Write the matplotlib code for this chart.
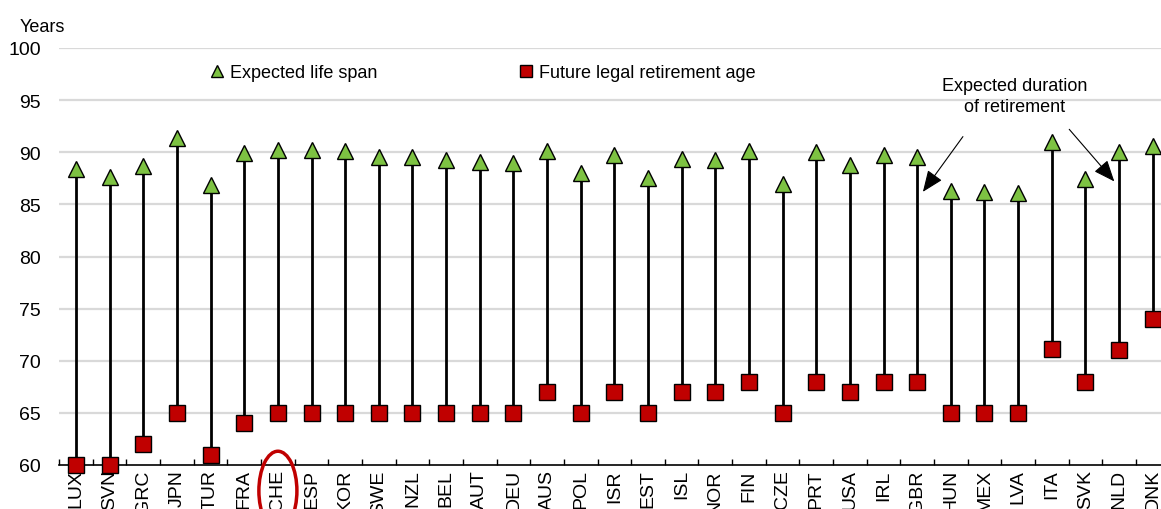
import matplotlib
matplotlib.use("Agg")
import matplotlib.pyplot as plt
from matplotlib import font_manager
from matplotlib.patches import Ellipse
from matplotlib.lines import Line2D
import matplotlib.transforms as mtransforms
import numpy as np

countries = ["LUX", "SVN", "GRC", "JPN", "TUR", "FRA", "CHE", "ESP", "KOR", "SWE",
             "NZL", "BEL", "AUT", "DEU", "AUS", "POL", "ISR", "EST", "ISL", "NOR",
             "FIN", "CZE", "PRT", "USA", "IRL", "GBR", "HUN", "MEX", "LVA", "ITA",
             "SVK", "NLD", "DNK"]
life_span = [88.4, 87.6, 88.7, 91.35, 86.9, 89.9, 90.2, 90.2, 90.15, 89.5,
             89.5, 89.3, 89.1, 89.0, 90.15, 88.0, 89.7, 87.5, 89.4, 89.3,
             90.1, 87.0, 90.0, 88.8, 89.7, 89.5, 86.3, 86.2, 86.1, 91.0,
             87.4, 90.0, 90.6]
retirement_age = [60, 60, 62, 65, 61, 64, 65, 65, 65, 65,
                  65, 65, 65, 65, 67, 65, 67, 65, 67, 67,
                  68, 65, 68, 67, 68, 68, 65, 65, 65, 71.1,
                  68, 71, 74]
y_ticks = [60, 65, 70, 75, 80, 85, 90, 95, 100]
highlight = "CHE"

available = {f.name for f in font_manager.fontManager.ttflist}
fam = "Liberation Sans Narrow" if "Liberation Sans Narrow" in available else "Liberation Sans"
plt.rcParams["font.family"] = [fam, "DejaVu Sans"]

GREEN = "#7DC242"
RED = "#C00000"
GRID = "#D9D9D9"
FS = 13

fig = plt.figure(figsize=(11.61, 5.10), dpi=100)
W, H = 1161, 510
ax = fig.add_axes([59.2 / W, 1 - 466 / H, (1169.5 - 59.2) / W, (466 - 49) / H])

x = np.arange(len(countries))
ax.set_xlim(-0.5, len(countries) - 0.5)
ax.set_ylim(60, 100)

for yv in y_ticks[1:]:
    ax.axhline(yv, color=GRID, lw=1.6, zorder=0)

ax.vlines(x, retirement_age, life_span, color="black", lw=2, zorder=2)
ax.plot(x, life_span, linestyle="none", marker="^", markersize=12,
        markerfacecolor=GREEN, markeredgecolor="black", markeredgewidth=1, zorder=3, clip_on=False)
ax.plot(x, retirement_age, linestyle="none", marker="s", markersize=11.5,
        markerfacecolor=RED, markeredgecolor="black", markeredgewidth=1, zorder=4, clip_on=False)

for s in ["top", "right", "left"]:
    ax.spines[s].set_visible(False)
ax.spines["bottom"].set_color("black")
ax.spines["bottom"].set_linewidth(1.2)

ax.set_yticks(y_ticks)
ax.set_yticklabels([str(v) for v in y_ticks], fontsize=FS + 1)
ax.tick_params(axis="y", length=0, pad=13)

ax.set_xticks(x)
ax.set_xticklabels(countries, rotation=90, fontsize=FS + 1)
ax.tick_params(axis="x", which="major", length=0, pad=3)
ax.set_xticks(np.arange(-0.5, len(countries), 1), minor=True)
ax.tick_params(axis="x", which="minor", direction="in", length=4, width=1, color="black")

fig.text(20 / W, 1 - 27 / H, "Years", fontsize=FS, ha="left", va="center")

# Legend (two entries, positioned separately)
h1 = Line2D([], [], linestyle="none", marker="^", markersize=9, markerfacecolor=GREEN,
            markeredgecolor="black", markeredgewidth=1)
h2 = Line2D([], [], linestyle="none", marker="s", markersize=8, markerfacecolor=RED,
            markeredgecolor="black", markeredgewidth=1)
leg1 = ax.legend([h1], ["Expected life span"], frameon=False, fontsize=FS,
                 handlelength=0.8, handletextpad=0.3, loc="center left",
                 bbox_to_anchor=(210 / W, 1 - 74 / H), bbox_transform=fig.transFigure,
                 borderpad=0, borderaxespad=0)
ax.add_artist(leg1)
leg2 = ax.legend([h2], ["Future legal retirement age"], frameon=False, fontsize=FS,
                 handlelength=0.8, handletextpad=0.3, loc="center left",
                 bbox_to_anchor=(519 / W, 1 - 74 / H), bbox_transform=fig.transFigure,
                 borderpad=0, borderaxespad=0)

# Annotation
ax.text(27.9, 95.4, "Expected duration\nof retirement", fontsize=FS, ha="center", va="center",
        linespacing=1.35)
arrow_kw = dict(arrowstyle="-|>,head_length=1.1,head_width=0.45", color="black", lw=0.8,
                mutation_scale=12, shrinkA=0, shrinkB=0)
ax.annotate("", xy=(25.17, 86.2), xytext=(26.36, 91.5), arrowprops=arrow_kw)
ax.annotate("", xy=(30.86, 87.2), xytext=(29.52, 92.2), arrowprops=arrow_kw)

# Highlight ellipse around CHE label
trans = mtransforms.blended_transform_factory(ax.transData, ax.transAxes)
idx = countries.index(highlight)
ell = Ellipse((idx, -0.062), width=1.13, height=0.19, transform=trans,
              fill=False, edgecolor=RED, lw=2.5, clip_on=False, zorder=5)
ax.add_patch(ell)

fig.savefig("out.png", dpi=100)
